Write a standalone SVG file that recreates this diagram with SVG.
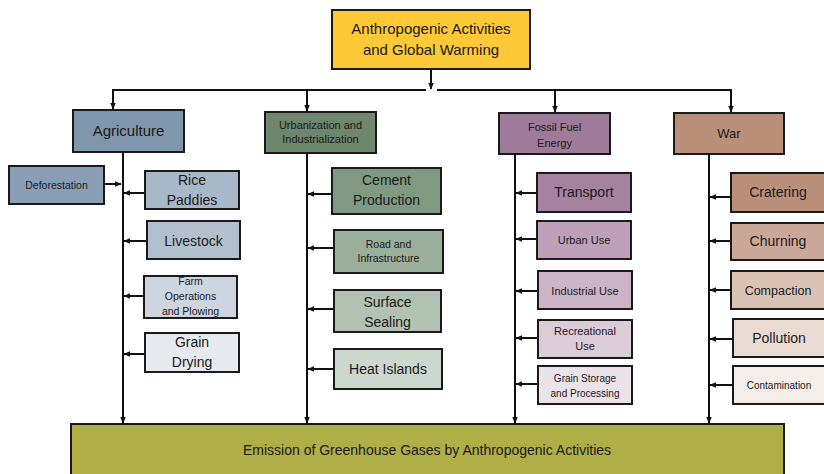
<svg xmlns="http://www.w3.org/2000/svg" width="824" height="474" viewBox="0 0 824 474">
<defs>
<marker id="ah" viewBox="0 0 10 10" refX="9" refY="5" markerWidth="7" markerHeight="7" orient="auto" markerUnits="userSpaceOnUse">
<path d="M0,1 L10,5 L0,9 z" fill="#111"/>
</marker>
<style>
.n rect{stroke:#1a1a1a;stroke-width:2}
text{font-family:"Liberation Sans","Noto Sans",Arial,sans-serif;fill:#1a1a1a;text-anchor:middle}
.c line,.c path{stroke:#111;stroke-width:2;fill:none}
.a{marker-end:url(#ah)}
</style>
</defs>
<rect width="824" height="474" fill="#fff" style="stroke:none"/>
<g class="c" id="connectors">
<line x1="431" y1="69" x2="431" y2="89" class="a"/>
<path d="M426,90 H113 V109" class="a"/>
<path d="M307,90 V111" class="a"/>
<path d="M437,90 H731 V112" class="a"/>
<path d="M555,90 V112" class="a"/>
<line x1="123" y1="152" x2="123" y2="423" class="a"/>
<line x1="307" y1="153" x2="307" y2="423" class="a"/>
<line x1="515" y1="154" x2="515" y2="423" class="a"/>
<line x1="709" y1="154" x2="709" y2="423" class="a"/>
<line x1="104" y1="184" x2="121" y2="184" class="a"/>
<line x1="145" y1="193" x2="124" y2="193" class="a"/>
<line x1="147" y1="241" x2="124" y2="241" class="a"/>
<line x1="144" y1="296" x2="124" y2="296" class="a"/>
<line x1="145" y1="354" x2="124" y2="354" class="a"/>
<line x1="332" y1="194" x2="308" y2="194" class="a"/>
<line x1="334" y1="248" x2="308" y2="248" class="a"/>
<line x1="334" y1="309" x2="308" y2="309" class="a"/>
<line x1="334" y1="369" x2="308" y2="369" class="a"/>
<line x1="537" y1="193" x2="516" y2="193" class="a"/>
<line x1="537" y1="239" x2="516" y2="239" class="a"/>
<line x1="538" y1="291" x2="516" y2="291" class="a"/>
<line x1="538" y1="338" x2="516" y2="338" class="a"/>
<line x1="538" y1="384" x2="516" y2="384" class="a"/>
<line x1="731" y1="197" x2="710" y2="197" class="a"/>
<line x1="731" y1="241" x2="710" y2="241" class="a"/>
<line x1="731" y1="290" x2="710" y2="290" class="a"/>
<line x1="733" y1="339" x2="710" y2="339" class="a"/>
<line x1="733" y1="385" x2="710" y2="385" class="a"/>
</g>
<g class="n">
<g id="root"><rect x="332" y="10" width="198" height="59" fill="#fdc936"/>
<text x="431" y="34" font-size="15">Anthropogenic Activities</text>
<text x="431" y="55" font-size="15">and Global Warming</text></g>
<g id="agriculture"><rect x="73" y="110" width="111" height="42" fill="#7f96ad"/>
<text x="128.5" y="136" font-size="15">Agriculture</text></g>
<g id="urbanization"><rect x="265" y="112" width="111" height="41" fill="#6f876c"/>
<text x="320.5" y="129" font-size="11">Urbanization and</text>
<text x="320.5" y="143" font-size="11">Industrialization</text></g>
<g id="fossil"><rect x="499" y="113" width="111" height="41" fill="#9e7b98"/>
<text x="554.5" y="131" font-size="11">Fossil Fuel</text>
<text x="554.5" y="147" font-size="11">Energy</text></g>
<g id="war"><rect x="674" y="113" width="110" height="41" fill="#b98f7a"/>
<text x="729" y="138" font-size="13">War</text></g>
<g id="deforestation"><rect x="9" y="166" width="95" height="38" fill="#8a9fb5"/>
<text x="56.5" y="189" font-size="10.5">Deforestation</text></g>
<g id="rice"><rect x="145" y="171" width="94" height="38" fill="#a9b8c8"/>
<text x="192" y="185" font-size="14">Rice</text>
<text x="192" y="205" font-size="14">Paddies</text></g>
<g id="livestock"><rect x="147" y="221" width="93" height="38" fill="#b2c0ce"/>
<text x="193.5" y="246" font-size="14">Livestock</text></g>
<g id="farm"><rect x="144" y="276" width="93" height="42" fill="#cdd6df"/>
<text x="190.5" y="285" font-size="10.5">Farm</text>
<text x="190.5" y="300" font-size="10.5">Operations</text>
<text x="190.5" y="315" font-size="10.5">and Plowing</text></g>
<g id="grain-drying"><rect x="145" y="333" width="94" height="39" fill="#e6e9ee"/>
<text x="192" y="347" font-size="14">Grain</text>
<text x="192" y="367" font-size="14">Drying</text></g>
<g id="cement"><rect x="332" y="168" width="109" height="46" fill="#7f9a81"/>
<text x="386.5" y="185" font-size="14">Cement</text>
<text x="386.5" y="205" font-size="14">Production</text></g>
<g id="road"><rect x="334" y="230" width="109" height="43" fill="#9aae9c"/>
<text x="388.5" y="248" font-size="10.5">Road and</text>
<text x="388.5" y="262" font-size="10.5">Infrastructure</text></g>
<g id="surface"><rect x="334" y="290" width="107" height="42" fill="#b1c1b2"/>
<text x="387.5" y="307" font-size="14">Surface</text>
<text x="387.5" y="327" font-size="14">Sealing</text></g>
<g id="heat"><rect x="334" y="349" width="108" height="40" fill="#ccd7cd"/>
<text x="388" y="374" font-size="14">Heat Islands</text></g>
<g id="transport"><rect x="537" y="173" width="94" height="39" fill="#a5829f"/>
<text x="584" y="197" font-size="14">Transport</text></g>
<g id="urban-use"><rect x="537" y="221" width="94" height="38" fill="#bda0b8"/>
<text x="584" y="244" font-size="11">Urban Use</text></g>
<g id="industrial-use"><rect x="538" y="271" width="94" height="38" fill="#ccb4c7"/>
<text x="585" y="295" font-size="11">Industrial Use</text></g>
<g id="recreational-use"><rect x="538" y="320" width="94" height="38" fill="#dbccd7"/>
<text x="585" y="335" font-size="11">Recreational</text>
<text x="585" y="350" font-size="11">Use</text></g>
<g id="grain-storage"><rect x="538" y="366" width="94" height="38" fill="#ece3ea"/>
<text x="585" y="382" font-size="10">Grain Storage</text>
<text x="585" y="397" font-size="10">and Processing</text></g>
<g id="cratering"><rect x="731" y="173" width="100" height="39" fill="#b98f7a"/>
<text x="778" y="197" font-size="14">Cratering</text></g>
<g id="churning"><rect x="731" y="223" width="100" height="37" fill="#caa897"/>
<text x="778" y="246" font-size="14">Churning</text></g>
<g id="compaction"><rect x="731" y="271" width="100" height="38" fill="#dac2b5"/>
<text x="778" y="295" font-size="12.5">Compaction</text></g>
<g id="pollution"><rect x="733" y="319" width="100" height="38" fill="#e9dad2"/>
<text x="779" y="343" font-size="14">Pollution</text></g>
<g id="contamination"><rect x="733" y="366" width="100" height="38" fill="#f4eeea"/>
<text x="779" y="389" font-size="10">Contamination</text></g>
<g id="emission"><rect x="71" y="424" width="713" height="60" fill="#afae47"/>
<text x="427" y="455" font-size="14">Emission of Greenhouse Gases by Anthropogenic Activities</text></g>
</g>
</svg>
